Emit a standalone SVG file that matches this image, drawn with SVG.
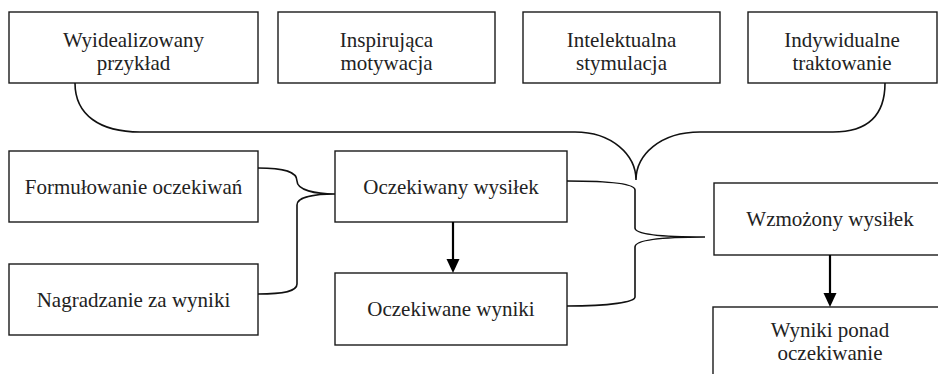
<svg xmlns="http://www.w3.org/2000/svg" width="938" height="374" viewBox="0 0 938 374">
<style>
.box{fill:#fff;stroke:#1a1a1a;stroke-width:1.4}
.c{fill:none;stroke:#111;stroke-width:1.6}
.a{fill:none;stroke:#000;stroke-width:2.2}
text{font-family:'Liberation Serif','DejaVu Serif',serif !important;font-size:21px;fill:#222;text-anchor:middle}
</style>
<rect width="938" height="374" fill="#fff"/>
<g id="n1"><rect class="box" x="9" y="12" width="249" height="71"/><text x="133.5" y="47">Wyidealizowany</text><text x="133.5" y="70">przykład</text></g>
<g id="n2"><rect class="box" x="278" y="12" width="217" height="71"/><text x="386.5" y="47">Inspirująca</text><text x="386.5" y="70">motywacja</text></g>
<g id="n3"><rect class="box" x="523" y="12" width="197" height="71"/><text x="621.5" y="47">Intelektualna</text><text x="621.5" y="70">stymulacja</text></g>
<g id="n4"><rect class="box" x="748" y="12" width="189" height="71"/><text x="842" y="47">Indywidualne</text><text x="842" y="70">traktowanie</text></g>
<g id="n5"><rect class="box" x="9" y="151" width="249" height="71"/><text x="133.5" y="194">Formułowanie oczekiwań</text></g>
<g id="n6"><rect class="box" x="9" y="264" width="249" height="71"/><text x="133.5" y="307">Nagradzanie za wyniki</text></g>
<g id="n7"><rect class="box" x="335" y="151" width="232" height="71"/><text x="451" y="194">Oczekiwany wysiłek</text></g>
<g id="n8"><rect class="box" x="335" y="273" width="232" height="72"/><text x="451" y="316">Oczekiwane wyniki</text></g>
<g id="n9"><rect class="box" x="714" y="183" width="232" height="72"/><text x="830" y="226">Wzmożony wysiłek</text></g>
<g id="n10"><rect class="box" x="713" y="307" width="233" height="80"/><text x="830" y="337">Wyniki ponad</text><text x="830" y="360">oczekiwanie</text></g>
<g id="connectors">
<path class="c" d="M75,83 C75,115 100,132 140,132 L575,132 C612,132 636,155 636,180 C636,155 660,132 700,132 L833,132 C868,132 885,115 885,83"/>
<path class="c" d="M258,168 C285,168 297,172 297,181 C297,190 315,194 335,194 C315,194 297,197 297,205 L297,284 C297,291 285,294 258,294"/>
<path class="c" d="M567,181 C610,181 635,184 635,190 L635,228 C635,234 660,237 705,237 C660,237 635,240 635,247 L635,297 C635,302 610,306 567,306"/>
<line class="a" x1="453" y1="222" x2="453" y2="260"/>
<path d="M446.5,259 L459.5,259 L453,273 Z" fill="#000"/>
<line class="a" x1="830" y1="255" x2="830" y2="294"/>
<path d="M823.5,293 L836.5,293 L830,307 Z" fill="#000"/>
</g>
</svg>
